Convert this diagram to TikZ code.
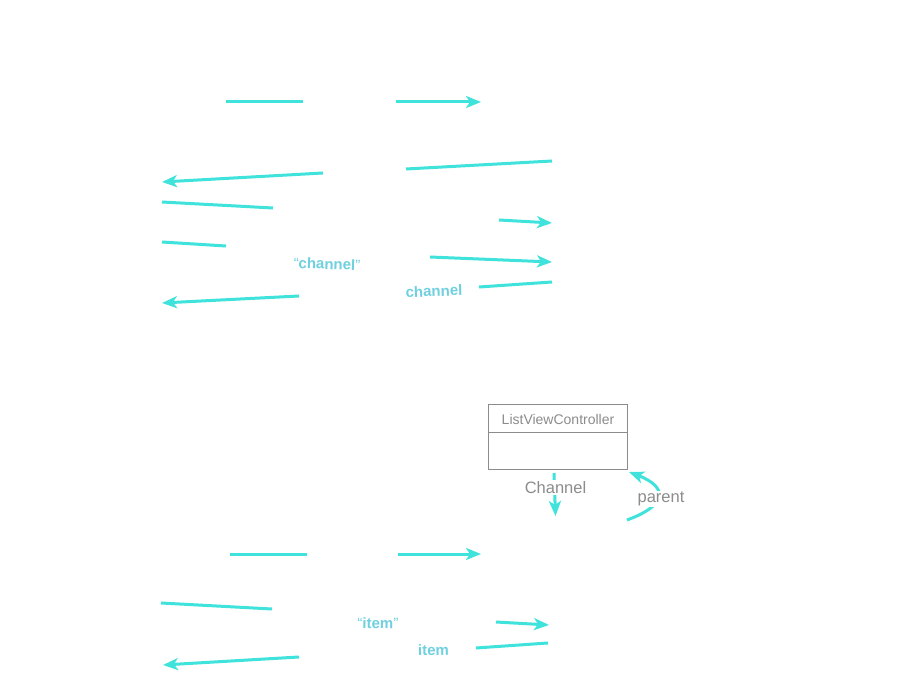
\documentclass[tikz,border=0pt]{standalone}
\usepackage{fontspec}
\setmainfont{Liberation Sans}
\usetikzlibrary{arrows.meta}
\definecolor{cy}{HTML}{3FE3DB}
\definecolor{lbl}{HTML}{70D0E0}
\definecolor{gr}{HTML}{8C8C8C}
\tikzset{
 conn/.style={draw=cy, line width=3pt},
 arr/.style={conn, -{Stealth[length=15pt,width=12pt,inset=4pt]}},
 lab/.style={text=lbl, font=\fontsize{15}{18}\selectfont\bfseries, inner sep=0pt},
 glab/.style={text=gr, font=\fontsize{16.5}{20}\selectfont, fill=white, inner sep=1pt},
 boxtitle/.style={text=gr, font=\fontsize{14}{16}\selectfont, inner sep=0pt},
}
\begin{document}
\begin{tikzpicture}[x=1pt,y=-1pt]
\useasboundingbox[fill=white] (0,0) rectangle (900,700);
% top block
\coordinate (a1) at (226,102); \coordinate (a2) at (303,102);
\coordinate (b1) at (396,102); \coordinate (b2) at (481,102);
\coordinate (c1) at (323,173); \coordinate (c2) at (162,182);
\coordinate (d1) at (406,169); \coordinate (d2) at (552,161);
\coordinate (e1) at (162,202); \coordinate (e2) at (273,208);
\coordinate (f1) at (499,220); \coordinate (f2) at (552,223);
\coordinate (g1) at (162,242); \coordinate (g2) at (226,246);
\coordinate (h1) at (430,257); \coordinate (h2) at (552,262);
\coordinate (i1) at (479,287); \coordinate (i2) at (552,282);
\coordinate (j1) at (299,296); \coordinate (j2) at (162,303);
\draw[conn] (a1) -- (a2);
\draw[arr] (b1) -- (b2);
\draw[arr] (c1) -- (c2);
\draw[conn] (d1) -- (d2);
\draw[conn] (e1) -- (e2);
\draw[arr] (f1) -- (f2);
\draw[conn] (g1) -- (g2);
\draw[arr] (h1) -- (h2);
\draw[conn] (i1) -- (i2);
\draw[arr] (j1) -- (j2);
\node[lab, rotate=-2] (qch) at (327,264) {\mdseries“\bfseries channel\mdseries”};
\node[lab, rotate=2] (ch) at (434,291) {channel};
% box
\node[draw=gr, line width=0.8pt, minimum width=139pt, minimum height=65pt, inner sep=0pt] (lvc) at (557.5,436.5) {};
\draw[gr, line width=0.8pt] (lvc.west |- 0,432.5) -- (lvc.east |- 0,432.5);
\node[boxtitle] (lvct) at (558,419) {ListViewController};
\coordinate (k1) at (554,473); \coordinate (k2) at (555.5,516);
\draw[arr] (k1) -- (k2);
\node[glab] (chan) at (555.5,487.5) {Channel};
\coordinate (p1) at (627,520); \coordinate (p2) at (629,472);
\draw[arr] (p1) .. controls (668,505) and (668,487) .. (p2);
\node[glab] (par) at (661,499) {parent};
% bottom block
\coordinate (m1) at (230,554); \coordinate (m2) at (307,554);
\coordinate (n1) at (398,554); \coordinate (n2) at (481,554);
\coordinate (o1) at (161,603); \coordinate (o2) at (272,609);
\coordinate (q1) at (496,622); \coordinate (q2) at (549,625);
\coordinate (r1) at (476,648); \coordinate (r2) at (548,643);
\coordinate (s1) at (299,657); \coordinate (s2) at (163,665);
\draw[conn] (m1) -- (m2);
\draw[arr] (n1) -- (n2);
\draw[conn] (o1) -- (o2);
\draw[arr] (q1) -- (q2);
\draw[conn] (r1) -- (r2);
\draw[arr] (s1) -- (s2);
\node[lab, rotate=-1] (qit) at (378,623) {\mdseries“\bfseries item\mdseries”};
\node[lab, rotate=1] (it) at (433.5,650) {item};
\end{tikzpicture}
\end{document}
